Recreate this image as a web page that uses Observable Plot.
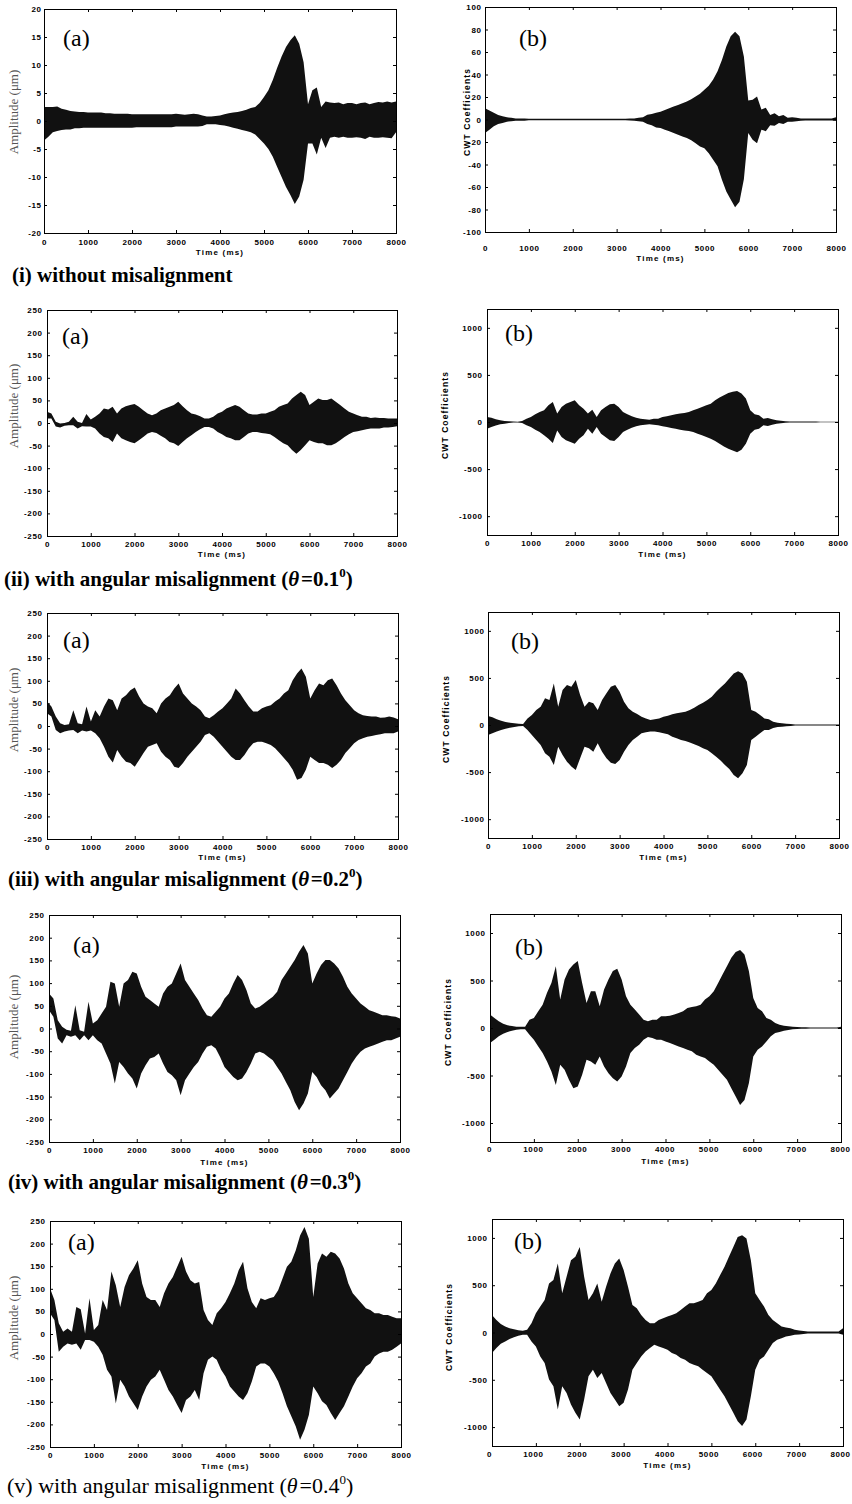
<!DOCTYPE html>
<html><head><meta charset="utf-8">
<script src="https://cdn.jsdelivr.net/npm/d3@7"></script>
<script src="https://cdn.jsdelivr.net/npm/@observablehq/plot@0.6"></script>
<style>
html,body{margin:0;padding:0;background:#fff;}
#page{position:relative;width:852px;height:1504px;overflow:hidden;background:#fff;}
.cap{position:absolute;font-family:"Liberation Serif","Times New Roman",serif;font-size:21px;line-height:21px;font-weight:bold;white-space:nowrap;color:#000;}
.cap sup{font-size:13px;vertical-align:baseline;position:relative;top:-9px;}
.pl{position:absolute;font-family:"Liberation Serif","Times New Roman",serif;font-size:24px;line-height:24px;white-space:nowrap;color:#000;}
.ctr{position:absolute;white-space:nowrap;line-height:1;transform:translate(-50%,-50%);}
.rot{transform:translate(-50%,-50%) rotate(-90deg);}
.amp{font-family:"Liberation Serif","Times New Roman",serif;font-size:13px;color:#555;}
.cwt{font-family:"Liberation Sans",Arial,sans-serif;font-size:8.5px;font-weight:bold;letter-spacing:1.1px;color:#000;}
.tms{font-family:"Liberation Sans",Arial,sans-serif;font-size:8px;font-weight:bold;letter-spacing:1.2px;color:#000;}
</style></head><body><div id="page"></div><script>
// ---------- data (envelope max / min every 100 ms) ----------
const TIME_MS = [
  0,100,200,300,400,500,600,700,800,900,
  1000,1100,1200,1300,1400,1500,1600,1700,1800,1900,
  2000,2100,2200,2300,2400,2500,2600,2700,2800,2900,
  3000,3100,3200,3300,3400,3500,3600,3700,3800,3900,
  4000,4100,4200,4300,4400,4500,4600,4700,4800,4900,
  5000,5100,5200,5300,5400,5500,5600,5700,5800,5900,
  6000,6100,6200,6300,6400,6500,6600,6700,6800,6900,
  7000,7100,7200,7300,7400,7500,7600,7700,7800,7900,
  8000];
const TIME_TICKS = [0,1000,2000,3000,4000,5000,6000,7000,8000];
const AMP_TICKS_I = [-20,-15,-10,-5,0,5,10,15,20];
const CWT_TICKS_I = [-100,-80,-60,-40,-20,0,20,40,60,80,100];
const AMP_TICKS = [-250,-200,-150,-100,-50,0,50,100,150,200,250];
const CWT_TICKS = [-1000,-500,0,500,1000];
const AMP_DOMAIN_I = [-20,20];
const CWT_DOMAIN_I = [-100,100];
const AMP_DOMAIN = [-250,250];
const CWT_DOMAIN = [-1200,1200];

// (i) without misalignment
const A1_HI = [
  2.5,2.5,2.5,2.6,2.2,2.0,1.8,1.7,1.6,1.6,
  1.5,1.5,1.5,1.5,1.4,1.4,1.3,1.3,1.3,1.3,
  1.2,1.2,1.2,1.2,1.2,1.2,1.2,1.2,1.2,1.2,
  1.3,1.2,1.1,1.2,1.3,1.2,1.0,0.8,0.8,0.9,
  1.0,1.2,1.4,1.5,1.6,1.8,2.0,2.3,2.5,3.2,
  4.3,5.5,7.3,9.5,11.5,13.2,14.4,15.3,13.8,10.5,
  3.0,5.5,6.0,2.5,3.5,3.3,3.2,3.3,3.0,3.2,
  3.2,3.0,3.2,3.3,3.0,3.2,3.4,3.3,3.5,3.3,
  3.5];
const A1_LO = [
  -3.5,-2.8,-2.0,-1.8,-1.6,-1.5,-1.5,-1.3,-1.3,-1.2,
  -1.2,-1.2,-1.2,-1.2,-1.2,-1.2,-1.2,-1.2,-1.2,-1.2,
  -1.2,-1.1,-1.1,-1.1,-1.1,-1.1,-1.1,-1.1,-1.1,-1.1,
  -1.0,-1.0,-1.0,-1.0,-1.0,-1.0,-0.9,-0.6,-0.6,-0.6,
  -0.7,-0.8,-1.0,-1.2,-1.4,-1.6,-1.8,-2.0,-2.4,-3.2,
  -4.0,-5.0,-6.4,-8.2,-10,-11.8,-13.2,-14.8,-13.5,-10.5,
  -4.0,-4.0,-6.0,-3.0,-4.8,-3.0,-2.8,-3.0,-2.8,-3.0,
  -3.0,-2.9,-3.0,-3.2,-2.8,-3.0,-3.0,-2.9,-3.0,-3.1,
  -2.0];
const B1_HI = [
  10,8,6,4,3,2,1.5,1,1,1,
  0.6,0.6,0.6,0.6,0.6,0.6,0.6,0.6,0.6,0.6,
  0.6,0.6,0.6,0.6,0.6,0.6,0.6,0.6,0.6,0.6,
  0.6,0.6,0.6,0.8,1,1.5,2,4.3,5,6,
  7,8.5,10,11.5,13,14.5,16,18,20.5,23,
  26.5,30,35.5,43,53,65,74,78,74,56,
  17,17.6,20.5,9,10.5,4,5.5,3,4,1.5,
  2,1.5,1,0.8,0.8,0.8,0.8,0.8,0.8,0.8,
  2];
const B1_LO = [
  -12,-9,-6,-4,-3,-2,-1.5,-1,-1,-1,
  -0.6,-0.6,-0.6,-0.6,-0.6,-0.6,-0.6,-0.6,-0.6,-0.6,
  -0.6,-0.6,-0.6,-0.6,-0.6,-0.6,-0.6,-0.6,-0.6,-0.6,
  -0.6,-0.6,-0.6,-0.8,-1,-1.5,-2,-4,-5,-7,
  -7.5,-9,-10.5,-12,-13.5,-15,-16.5,-18.5,-21,-24,
  -25.5,-30,-35.7,-41.6,-53.5,-64,-71,-78,-73,-53,
  -12,-18,-21,-9,-10.5,-5,-5.5,-3,-4,-2,
  -2,-1.5,-1,-0.8,-0.8,-0.8,-0.8,-0.8,-0.8,-0.8,
  -1];

// (ii) theta = 0.1
const A2_HI = [
  25,21,3,-1,0,3,14,3,0,20,
  8,14,21,32,30,36,21,32,37,40,
  42,36,28,21,17,21,28,32,36,40,
  47,37,28,21,19,15,10,10,14,21,
  25,32,36,40,36,28,21,19,19,21,
  21,25,28,36,40,43,54,62,69,62,
  40,47,54,51,51,54,47,40,32,25,
  21,17,14,14,11,12,11,11,10,10,
  10];
const A2_LO = [
  10,10,-8,-10,-6,-5,-5,-12,-7,-8,
  -8,-12,-23,-31,-34,-42,-23,-34,-38,-42,
  -45,-38,-31,-23,-20,-22,-28,-34,-42,-45,
  -51,-42,-34,-27,-20,-14,-9,-9,-12,-20,
  -25,-31,-34,-38,-38,-31,-23,-20,-20,-22,
  -23,-25,-31,-38,-45,-49,-60,-68,-60,-49,
  -38,-42,-45,-45,-49,-49,-45,-38,-31,-25,
  -20,-18,-16,-14,-12,-12,-12,-10,-10,-9,
  -7];
const B2_HI = [
  53,46,28,18,11,8,5,3,10,35,
  53,82,107,125,178,213,89,160,195,213,
  231,178,142,89,131,53,124,160,188,195,
  160,107,82,60,46,35,28,25,35,35,
  53,60,71,82,89,96,107,124,142,160,
  178,195,231,259,284,309,320,330,302,249,
  124,82,71,35,43,28,18,12,8,5,
  5,5,4,4,4,4,3,3,3,3,
  3];
const B2_LO = [
  -71,-53,-36,-25,-18,-10,-6,-4,-10,-35,
  -53,-82,-107,-142,-178,-224,-89,-160,-195,-213,
  -231,-178,-142,-71,-124,-53,-124,-160,-195,-202,
  -160,-107,-82,-60,-46,-35,-28,-25,-28,-35,
  -46,-53,-64,-71,-82,-89,-96,-107,-124,-142,
  -160,-178,-202,-231,-259,-284,-302,-320,-295,-231,
  -124,-82,-71,-35,-43,-28,-18,-12,-8,-5,
  -5,-5,-4,-4,-4,-4,-3,-3,-3,-3,
  -3];

// (iii) theta = 0.2
const A3_HI = [
  54,43,21,6,2,4,35,6,4,43,
  10,35,21,43,61,57,35,61,68,79,
  85,65,50,43,39,28,50,61,68,83,
  94,72,61,50,43,35,21,17,24,32,
  39,50,61,83,72,57,43,32,32,39,
  43,46,54,61,72,79,101,116,127,109,
  61,79,94,90,101,105,90,72,57,46,
  35,28,24,22,21,21,18,19,21,19,
  15];
const A3_LO = [
  28,21,-9,-16,-12,-10,-9,-16,-10,-12,
  -10,-16,-27,-46,-68,-81,-53,-68,-79,-82,
  -90,-75,-60,-46,-42,-38,-57,-68,-75,-90,
  -93,-82,-68,-57,-46,-35,-20,-16,-24,-35,
  -46,-57,-68,-75,-75,-64,-49,-38,-35,-35,
  -38,-42,-49,-60,-71,-82,-97,-119,-115,-97,
  -68,-75,-82,-82,-86,-93,-86,-75,-60,-49,
  -38,-31,-27,-24,-22,-20,-18,-16,-16,-16,
  -12];
const B3_HI = [
  95,81,60,46,32,25,18,12,10,70,
  106,159,194,283,265,442,194,371,424,406,
  477,318,194,247,230,159,265,336,406,424,
  353,247,177,141,117,88,70,53,60,70,
  88,99,113,124,134,141,159,184,212,237,
  265,300,353,399,442,495,548,572,548,459,
  159,141,106,70,60,35,25,18,14,10,
  6,6,6,5,5,5,5,5,5,5,
  5];
const B3_LO = [
  -106,-88,-70,-53,-39,-28,-20,-14,-10,-53,
  -106,-159,-212,-300,-336,-424,-230,-318,-389,-442,
  -477,-353,-230,-247,-283,-194,-283,-353,-400,-413,
  -371,-283,-212,-159,-124,-88,-78,-70,-70,-78,
  -88,-99,-124,-141,-159,-170,-187,-205,-223,-247,
  -265,-300,-336,-378,-424,-466,-530,-565,-512,-424,
  -159,-124,-88,-53,-53,-32,-21,-18,-14,-10,
  -6,-6,-6,-5,-5,-5,-5,-5,-5,-5,
  -5];

// (iv) theta = 0.3
const A4_HI = [
  77,66,18,4,-3,-5,51,-4,-7,59,
  11,18,33,48,103,99,48,99,107,125,
  121,92,70,63,55,48,77,92,99,121,
  143,107,92,77,63,44,29,26,37,48,
  66,77,99,118,107,85,55,44,48,55,
  63,70,81,107,121,136,151,169,184,165,
  99,121,140,151,151,143,132,114,92,77,
  66,55,48,40,37,33,29,29,27,26,
  22];
const A4_LO = [
  40,26,-22,-33,-15,-18,-15,-26,-15,-26,
  -15,-26,-33,-55,-77,-121,-74,-85,-99,-110,
  -132,-99,-81,-66,-63,-55,-77,-96,-103,-114,
  -147,-114,-99,-85,-74,-55,-40,-37,-44,-63,
  -85,-96,-107,-114,-110,-96,-77,-55,-51,-55,
  -63,-70,-85,-99,-118,-136,-162,-180,-165,-143,
  -96,-107,-125,-136,-154,-143,-132,-114,-96,-77,
  -63,-51,-44,-40,-37,-33,-29,-26,-26,-22,
  -18];
const B4_HI = [
  141,106,70,46,28,20,14,12,14,88,
  106,176,246,370,475,651,299,511,616,669,
  704,475,264,387,387,229,405,511,599,623,
  511,335,246,194,141,88,70,88,88,123,
  123,130,141,158,176,211,222,229,246,299,
  335,387,475,563,651,739,799,820,775,599,
  317,211,176,106,88,53,35,25,18,12,
  10,7,7,6,6,6,5,5,5,5,
  12];
const B4_LO = [
  -158,-123,-88,-60,-42,-28,-18,-12,-14,-70,
  -123,-194,-264,-352,-458,-599,-387,-440,-546,-634,
  -616,-493,-335,-352,-387,-299,-405,-475,-528,-563,
  -511,-405,-264,-211,-176,-123,-95,-106,-123,-123,
  -141,-158,-176,-194,-211,-229,-246,-282,-299,-317,
  -352,-387,-440,-493,-546,-634,-722,-810,-757,-581,
  -299,-229,-194,-141,-88,-53,-42,-28,-20,-14,
  -10,-7,-7,-6,-6,-6,-5,-5,-5,-5,
  -8];

// (v) theta = 0.4
const A5_HI = [
  101,75,24,5,12,5,60,55,1,79,
  9,20,75,53,138,108,60,104,130,145,
  163,112,82,75,75,60,90,112,126,149,
  171,138,119,112,115,53,31,20,46,57,
  71,90,112,141,160,101,71,57,79,75,
  79,82,97,123,149,160,185,218,237,211,
  82,156,178,171,182,178,167,145,112,90,
  79,68,57,53,46,46,42,42,38,35,
  35];
const A5_LO = [
  46,31,-39,-28,-21,-24,-21,-35,-13,-13,
  -17,-28,-46,-79,-94,-154,-101,-116,-138,-153,
  -168,-138,-116,-101,-94,-79,-101,-124,-138,-157,
  -175,-146,-138,-124,-146,-87,-57,-50,-57,-79,
  -94,-116,-127,-138,-146,-131,-105,-72,-65,-65,
  -72,-87,-105,-131,-160,-182,-204,-234,-212,-179,
  -116,-131,-149,-157,-175,-190,-175,-160,-138,-116,
  -98,-87,-72,-65,-50,-43,-39,-39,-35,-28,
  -21];
const B5_HI = [
  186,133,91,63,46,35,25,18,28,98,
  204,274,344,519,554,730,414,589,765,800,
  905,589,344,414,519,326,484,625,730,782,
  660,484,291,256,186,133,98,98,133,151,
  168,186,204,239,274,309,309,326,344,414,
  449,519,607,695,800,905,1011,1028,993,765,
  414,344,274,186,133,98,63,53,46,28,
  20,15,10,10,10,10,10,10,10,10,
  46];
const B5_LO = [
  -218,-165,-119,-95,-70,-50,-35,-25,-25,-95,
  -147,-253,-323,-498,-568,-814,-568,-639,-761,-849,
  -919,-709,-463,-393,-481,-428,-533,-639,-709,-779,
  -744,-603,-393,-323,-253,-200,-165,-130,-147,-165,
  -182,-218,-235,-270,-288,-323,-340,-358,-393,-428,
  -463,-533,-604,-674,-761,-849,-937,-989,-919,-674,
  -393,-288,-253,-182,-112,-77,-60,-42,-35,-25,
  -20,-15,-10,-10,-10,-10,-10,-10,-10,-10,
  -25];

const CAPTIONS = [
  "(i) without misalignment",
  "(ii) with angular misalignment (<i>θ</i>&#8202;=0.1<sup>0</sup>)",
  "(iii) with angular misalignment (<i>θ</i>&#8202;=0.2<sup>0</sup>)",
  "(iv) with angular misalignment (<i>θ</i>&#8202;=0.3<sup>0</sup>)",
  "(v) with angular misalignment (<i>θ</i>&#8202;=0.4<sup>0</sup>)"
];

// ---------- layout ----------
const page = document.getElementById("page");
const panels = [
  {hi:A1_HI, lo:A1_LO, dom:AMP_DOMAIN_I, ticks:AMP_TICKS_I, f:[44,9,396,233],  xp:6,  yp:3, xdx:0, kind:"a"},
  {hi:B1_HI, lo:B1_LO, dom:CWT_DOMAIN_I, ticks:CWT_TICKS_I, f:[485,7,836,232], xp:13, yp:4, xdx:0, kind:"b"},
  {hi:A2_HI, lo:A2_LO, dom:AMP_DOMAIN, ticks:AMP_TICKS, f:[47,310,397,536],   xp:5, yp:5, xdx:0, kind:"a"},
  {hi:B2_HI, lo:B2_LO, dom:CWT_DOMAIN, ticks:CWT_TICKS, f:[487,309,838,535],  xp:5, yp:5, xdx:0, kind:"b"},
  {hi:A3_HI, lo:A3_LO, dom:AMP_DOMAIN, ticks:AMP_TICKS, f:[47,613,398,839],   xp:5, yp:5, xdx:0, kind:"a"},
  {hi:B3_HI, lo:B3_LO, dom:CWT_DOMAIN, ticks:CWT_TICKS, f:[488,612,839,838],  xp:5, yp:4, xdx:0, kind:"b"},
  {hi:A4_HI, lo:A4_LO, dom:AMP_DOMAIN, ticks:AMP_TICKS, f:[49,915,400,1142],  xp:5, yp:5, xdx:0, kind:"a"},
  {hi:B4_HI, lo:B4_LO, dom:CWT_DOMAIN, ticks:CWT_TICKS, f:[490,914,841,1142], xp:4, yp:5, xdx:-1, kind:"b"},
  {hi:A5_HI, lo:A5_LO, dom:AMP_DOMAIN, ticks:AMP_TICKS, f:[50,1221,401,1447], xp:5, yp:5, xdx:0, kind:"a"},
  {hi:B5_HI, lo:B5_LO, dom:CWT_DOMAIN, ticks:CWT_TICKS, f:[492,1219,843,1446],xp:5, yp:5, xdx:-3, kind:"b"}
];
// label positions
const PANEL_LABEL = [[63,46],[519,46],[62,344],[505,341],[63,648],[511,649],[73,953],[515,955],[68,1250],[514,1249]];
const TIME_LABEL_Y = [253,259,555,555,858,858,1163,1162,1467,1466];
const YLABEL = [[13,112],[467,112],[13,406],[445,415],[13,710],[446,719],[13,1017],[448,1022],[13,1318],[449,1327]];
const CAPTION_POS = [[12,283,21,true],[4,587,21,true],[8,887,21,true],[8,1190,21,true],[7,1493,22,false]];

function drawPanel(p, idx) {
  const [L,T,R,B] = p.f;
  const ml = 44, mr = 14, mt = 6, mb = 26;
  const iw = R - L, ih = B - T;
  const rows = TIME_MS.map((t, i) => ({t, hi: p.hi[i], lo: p.lo[i]}));
  const svg = Plot.plot({
    width: iw + ml + mr, height: ih + mt + mb,
    marginLeft: ml, marginRight: mr, marginTop: mt, marginBottom: mb,
    x: {domain: [0, 8000]},
    y: {domain: p.dom},
    style: {fontFamily: "'Liberation Sans', Arial, sans-serif", fontSize: "8px", fontWeight: "bold",
            letterSpacing: "0.6px", color: "#000", background: "transparent", overflow: "visible"},
    marks: [
      Plot.areaY(rows, {x: "t", y1: "lo", y2: "hi", fill: "#111", curve: "linear", clip: true}),
      Plot.frame({stroke: "#000", strokeWidth: 1}),
      Plot.ruleX(TIME_TICKS, {x: d => d, insetTop: ih - 3, stroke: "#000"}),
      Plot.ruleX(TIME_TICKS, {x: d => d, insetBottom: ih - 3, stroke: "#000"}),
      Plot.ruleY(p.ticks, {y: d => d, insetRight: iw - 3, stroke: "#000"}),
      Plot.ruleY(p.ticks, {y: d => d, insetLeft: iw - 3, stroke: "#000"}),
      Plot.axisX({ticks: TIME_TICKS, tickSize: 0, tickPadding: p.xp, dx: p.xdx, tickFormat: d => String(d), label: null}),
      Plot.axisY({ticks: p.ticks, tickSize: 0, tickPadding: p.yp, tickFormat: d => String(d), label: null})
    ]
  });
  svg.style.position = "absolute";
  svg.style.left = (L - ml) + "px";
  svg.style.top = (T - mt) + "px";
  page.appendChild(svg);

  // panel letter
  const pl = document.createElement("div");
  pl.className = "pl";
  pl.textContent = p.kind === "a" ? "(a)" : "(b)";
  pl.style.left = PANEL_LABEL[idx][0] + "px";
  pl.style.top = (PANEL_LABEL[idx][1] - 20) + "px";
  page.appendChild(pl);

  // x title
  const xt = document.createElement("div");
  xt.className = "ctr tms";
  xt.textContent = "Time (ms)";
  xt.style.left = ((L + R) / 2) + "px";
  xt.style.top = TIME_LABEL_Y[idx] + "px";
  page.appendChild(xt);

  // y title
  const yt = document.createElement("div");
  yt.className = "ctr rot " + (p.kind === "a" ? "amp" : "cwt");
  yt.textContent = p.kind === "a" ? "Amplitude (μm)" : "CWT Coefficients";
  yt.style.left = YLABEL[idx][0] + "px";
  yt.style.top = YLABEL[idx][1] + "px";
  page.appendChild(yt);
}
panels.forEach(drawPanel);

CAPTIONS.forEach((c, i) => {
  const [x, base, fs, bold] = CAPTION_POS[i];
  const d = document.createElement("div");
  d.className = "cap";
  d.innerHTML = c;
  d.style.fontSize = fs + "px";
  d.style.lineHeight = fs + "px";
  d.style.fontWeight = bold ? "bold" : "normal";
  d.style.left = x + "px";
  d.style.top = (base - fs * 0.84) + "px";
  page.appendChild(d);
});
</script></body></html>
